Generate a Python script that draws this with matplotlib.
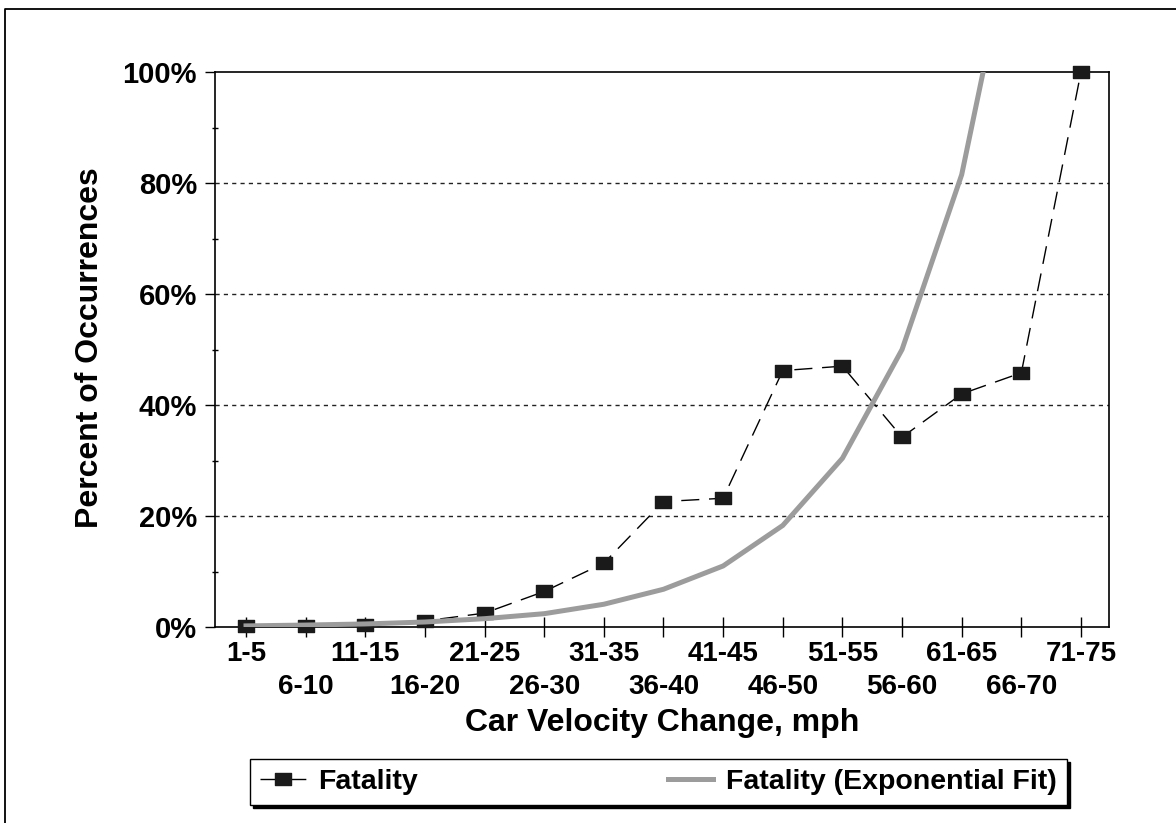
import matplotlib
matplotlib.use("Agg")
import matplotlib.pyplot as plt
from matplotlib.path import Path
from matplotlib.lines import Line2D
import numpy as np

plt.rcParams['font.family'] = ['Liberation Sans', 'DejaVu Sans']
plt.rcParams['font.weight'] = 'bold'

categories = ['1-5', '6-10', '11-15', '16-20', '21-25', '26-30', '31-35', '36-40',
              '41-45', '46-50', '51-55', '56-60', '61-65', '66-70', '71-75']
fatality = [0.2, 0.2, 0.4, 1.1, 2.5, 6.4, 11.5, 22.6, 23.2, 46.2, 47.0, 34.2, 42.0, 45.8, 100.0]
exp_fit = [0.2, 0.35, 0.55, 0.9, 1.5, 2.4, 4.1, 6.8, 11.0, 18.3, 30.4, 50.0, 81.5, 133.0]
y_ticks = [0, 20, 40, 60, 80, 100]
y_ticklabels = ['0%', '20%', '40%', '60%', '80%', '100%']

W, H = 1176, 823
fig = plt.figure(figsize=(W / 100, H / 100), dpi=100)
ax = fig.add_axes([215 / W, 1 - 627 / H, (1109 - 215) / W, (627 - 72) / H])

x = np.arange(len(categories))
xf = np.arange(len(exp_fit))

rect = Path([(-1, -0.75), (1, -0.75), (1, 0.75), (-1, 0.75), (-1, -0.75)],
            [Path.MOVETO, Path.LINETO, Path.LINETO, Path.LINETO, Path.CLOSEPOLY])

l1, = ax.plot(x, fatality, color='black', lw=1.0, dashes=(13, 7),
              marker=rect, markersize=11.5, markerfacecolor='#1a1a1a',
              markeredgecolor='#1a1a1a', clip_on=False, zorder=3,
              label='Fatality')
l2, = ax.plot(xf, exp_fit, color='#9c9c9c', lw=3.6, zorder=4,
              solid_joinstyle='miter', label='Fatality (Exponential Fit)')

ax.set_xlim(-0.52, 14.47)
ax.set_ylim(0, 100)

ax.set_xticks(x[::2])
ax.set_xticklabels(categories[::2], fontsize=20, fontweight='bold')
ax.set_xticks(x[1::2], minor=True)
ax.set_xticklabels(categories[1::2], minor=True, fontsize=20, fontweight='bold')
ax.tick_params(axis='x', which='major', direction='inout', length=14, width=1, pad=3)
ax.tick_params(axis='x', which='minor', direction='inout', length=14, width=1, pad=26.5)

ax.set_yticks(y_ticks)
ax.set_yticklabels(y_ticklabels, fontsize=21, fontweight='bold')
ax.set_yticks([10, 30, 50, 70, 90], minor=True)
ax.tick_params(axis='y', which='major', direction='out', length=7, width=1, pad=6)
ax.tick_params(axis='y', which='minor', direction='inout', length=5, width=1)

for yv in [20, 40, 60, 80]:
    ax.axhline(yv, color='#222222', lw=1.0, dashes=(3, 3), zorder=1)

for s in ax.spines.values():
    s.set_linewidth(1.2)
    s.set_color('black')

fig.text(90 / W, 1 - 348 / H, 'Percent of Occurrences', rotation=90,
         ha='center', va='center', fontsize=23, fontweight='bold')
fig.text(662 / W, 1 - 731 / H, 'Car Velocity Change, mph',
         ha='center', va='baseline', fontsize=23, fontweight='bold')

leg = fig.legend(handles=[l1, l2], loc='center',
                 bbox_to_anchor=(250 / W, 1 - 807 / H, (1067 - 250) / W, 50 / H),
                 mode='expand', ncol=2, fontsize=20.5, frameon=True, fancybox=False,
                 edgecolor='black', framealpha=1, borderaxespad=0,
                 handlelength=1.6, handletextpad=0.45, borderpad=0.35,
                 shadow={'facecolor': 'black', 'edgecolor': 'black', 'alpha': 1.0})
leg.get_frame().set_linewidth(1.0)
for t in leg.get_texts():
    t.set_fontweight('bold')

# outer border (left and top)
fig.add_artist(Line2D([5 / W, 5 / W, 1], [0, 1 - 9 / H, 1 - 9 / H],
                      transform=fig.transFigure, color='black', lw=1.3))

fig.savefig('out.png', dpi=100)
